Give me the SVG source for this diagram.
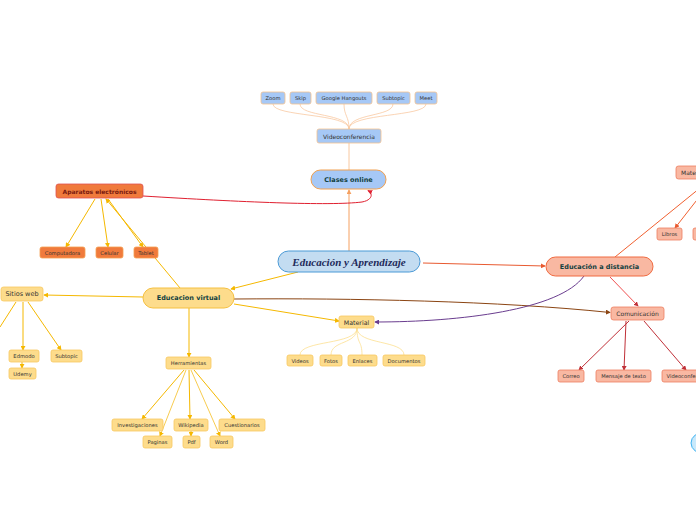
<svg xmlns="http://www.w3.org/2000/svg" width="696" height="520" viewBox="0 0 696 520">
<defs>
<style>
.t{font-family:"DejaVu Sans","Liberation Sans",sans-serif;fill:#333;text-anchor:middle;dominant-baseline:central}
.s{font-size:5.2px}
.m{font-size:6px}
.b{font-weight:bold;font-size:6.5px;fill:#123f3f}
.blue{fill:#a6c8f6;stroke:#f5c28e;stroke-width:0.8}
.org{fill:#f07a3c;stroke:#f5a050;stroke-width:0.8}
.yel{fill:#fddc8c;stroke:#f8c860;stroke-width:0.8}
.sal{fill:#f9b8a2;stroke:#ee7e60;stroke-width:0.8}
.ln{fill:none;stroke-width:1}
</style>
<marker id="aO" viewBox="0 0 6 6" refX="5" refY="3" markerWidth="5" markerHeight="5" orient="auto"><path d="M0,0L6,3L0,6z" fill="#f5a060"/></marker>
<marker id="aY" viewBox="0 0 6 6" refX="5" refY="3" markerWidth="5" markerHeight="5" orient="auto"><path d="M0,0L6,3L0,6z" fill="#f5b800"/></marker>
<marker id="aR" viewBox="0 0 6 6" refX="5" refY="3" markerWidth="5" markerHeight="5" orient="auto"><path d="M0,0L6,3L0,6z" fill="#e02030"/></marker>
<marker id="aB" viewBox="0 0 6 6" refX="5" refY="3" markerWidth="5" markerHeight="5" orient="auto"><path d="M0,0L6,3L0,6z" fill="#8b4513"/></marker>
<marker id="aP" viewBox="0 0 6 6" refX="5" refY="3" markerWidth="5" markerHeight="5" orient="auto"><path d="M0,0L6,3L0,6z" fill="#6a3d8f"/></marker>
<marker id="aD" viewBox="0 0 6 6" refX="5" refY="3" markerWidth="5" markerHeight="5" orient="auto"><path d="M0,0L6,3L0,6z" fill="#e85a30"/></marker>
<marker id="aC" viewBox="0 0 6 6" refX="5" refY="3" markerWidth="5" markerHeight="5" orient="auto"><path d="M0,0L6,3L0,6z" fill="#c03038"/></marker>
</defs>
<rect width="696" height="520" fill="#ffffff"/>

<g id="connectors">
<!-- Clases online branch -->
<path class="ln" d="M349,251 L349,190" stroke="#f5a060" marker-end="url(#aO)"/>
<path class="ln" d="M349,170 L349,143" stroke="#f8c8a0"/>
<g stroke="#f9c9a2" fill="none" stroke-width="0.8">
<path d="M349,129 C349,113 273,117 273,104"/>
<path d="M349,129 C349,113 300,117 300,104"/>
<path d="M349,129 C349,116 344,116 344,104"/>
<path d="M349,129 C349,113 393,117 393,104"/>
<path d="M349,129 C349,113 426,117 426,104"/>
</g>
<!-- Aparatos -->
<path class="ln" d="M143,196 C240,202 330,206 362,202 C373,200 373,193 368,190.5" stroke="#e02030" marker-end="url(#aR)"/>
<path class="ln" d="M95,199 L66,247" stroke="#f5b800" marker-end="url(#aY)"/>
<path class="ln" d="M101,199 L108,247" stroke="#f5b800" marker-end="url(#aY)"/>
<path class="ln" d="M108,199 L143,247" stroke="#f5b800" marker-end="url(#aY)"/>
<path class="ln" d="M180,288 L106,199" stroke="#f5b800" marker-end="url(#aY)"/>
<!-- Educacion virtual -->
<path class="ln" d="M298,272 L231,289" stroke="#f5b800" marker-end="url(#aY)"/>
<path class="ln" d="M143,297 L44,295" stroke="#f5b800" marker-end="url(#aY)"/>
<path class="ln" d="M23,302 L23,350" stroke="#f5b800" marker-end="url(#aY)"/>
<path class="ln" d="M22,362 L22,368" stroke="#f5b800" marker-end="url(#aY)"/>
<path class="ln" d="M28,302 L61,350" stroke="#f5b800" marker-end="url(#aY)"/>
<path class="ln" d="M16,302 L0,327" stroke="#f5b800"/>
<path class="ln" d="M189,308 L189,357" stroke="#f5b800" marker-end="url(#aY)"/>
<path class="ln" d="M184,370 L142,419" stroke="#f5b800" marker-end="url(#aY)"/>
<path class="ln" d="M186,370 L160,436" stroke="#f8cc50" marker-end="url(#aY)"/>
<path class="ln" d="M189,370 L190,419" stroke="#f5b800" marker-end="url(#aY)"/>
<path class="ln" d="M191,370 L220,436" stroke="#f8cc50" marker-end="url(#aY)"/>
<path class="ln" d="M194,370 L235,419" stroke="#f5b800" marker-end="url(#aY)"/>
<path class="ln" d="M191,431 L191,436" stroke="#f5b800" marker-end="url(#aY)"/>
<path class="ln" d="M234,304 L339,321" stroke="#f5b800" marker-end="url(#aY)"/>
<g stroke="#fde090" fill="none" stroke-width="0.8">
<path d="M357,328 C357,345 300,340 300,355"/>
<path d="M357,328 C357,345 331,340 331,355"/>
<path d="M357,328 C357,345 362,340 362,355"/>
<path d="M357,328 C357,345 404,340 404,355"/>
</g>
<path class="ln" d="M234,299 C350,298 500,301 610,312.5" stroke="#8b4513" marker-end="url(#aB)"/>
<!-- Educacion a distancia -->
<path class="ln" d="M423,263 L545,266" stroke="#e85a30" marker-end="url(#aD)"/>
<path class="ln" d="M584,276 C560,310 460,322 375,322" stroke="#6a3d8f" marker-end="url(#aP)"/>
<path class="ln" d="M610,277 L638,306" stroke="#f05050" marker-end="url(#aC)"/>
<path class="ln" d="M629,321 L579,370" stroke="#c03038" marker-end="url(#aC)"/>
<path class="ln" d="M626,321 L624,370" stroke="#c03038" marker-end="url(#aC)"/>
<path class="ln" d="M644,321 L686,370" stroke="#c03038" marker-end="url(#aC)"/>
<path class="ln" d="M700,188 L615,257" stroke="#f06030"/>
<path class="ln" d="M700,196 L675,228" stroke="#f06030" marker-end="url(#aD)"/>
</g>

<g id="central"><rect x="278" y="251" width="142" height="21" rx="10.5" fill="#c3dcf1" stroke="#4b9ad6" stroke-width="1"/><text x="349" y="262" style="font-family:'Liberation Serif','DejaVu Serif',serif;font-weight:bold;font-style:italic;font-size:11px;fill:#1e2a5a;text-anchor:middle;dominant-baseline:central">Educación y Aprendizaje</text></g>

<g id="clases"><rect x="311" y="170" width="75" height="19" rx="9.5" fill="#a6c8f6" stroke="#f0a050" stroke-width="1"/><text class="t b" x="348.5" y="179.5">Clases online</text></g>
<g id="videoconf"><rect class="blue" x="317" y="129" width="64" height="14" rx="2"/><text class="t m" x="349" y="136">Videoconferencia</text></g>
<g id="zoom"><rect class="blue" x="261" y="92" width="24" height="12" rx="2"/><text class="t s" x="273" y="98">Zoom</text></g>
<g id="skip"><rect class="blue" x="290" y="92" width="21" height="12" rx="2"/><text class="t s" x="300.5" y="98">Skip</text></g>
<g id="hangouts"><rect class="blue" x="316" y="92" width="56" height="12" rx="2"/><text class="t s" x="344" y="98">Google Hangouts</text></g>
<g id="subtopic1"><rect class="blue" x="377" y="92" width="33" height="12" rx="2"/><text class="t s" x="393.5" y="98">Subtopic</text></g>
<g id="meet"><rect class="blue" x="415" y="92" width="22" height="12" rx="2"/><text class="t s" x="426" y="98">Meet</text></g>

<g id="aparatos"><rect x="56" y="184" width="87" height="14" rx="2.5" fill="#f07a3c" stroke="#e05050" stroke-width="0.8"/><text class="t" x="99.5" y="191" style="font-weight:bold;font-size:6px;fill:#7a1a10">Aparatos electrónicos</text></g>
<g id="computadora"><rect class="org" x="40" y="247" width="45" height="11" rx="2"/><text class="t s" x="62.5" y="252.5">Computadora</text></g>
<g id="celular"><rect class="org" x="96" y="247" width="27" height="11" rx="2"/><text class="t s" x="109.5" y="252.5">Celular</text></g>
<g id="tablet"><rect class="org" x="134" y="247" width="24" height="11" rx="2"/><text class="t s" x="146" y="252.5">Tablet</text></g>

<g id="virtual"><rect x="143" y="288" width="91" height="20" rx="10" fill="#fddc8c" stroke="#f5c040" stroke-width="1"/><text class="t b" x="188.5" y="298">Educacion virtual</text></g>
<g id="sitios"><rect class="yel" x="1" y="287" width="42" height="14" rx="2.5"/><text class="t" x="22" y="294" style="font-size:6.5px">Sitios web</text></g>
<g id="edmodo"><rect class="yel" x="9" y="350" width="30" height="12" rx="2"/><text class="t s" x="24" y="356">Edmodo</text></g>
<g id="udemy"><rect class="yel" x="9" y="368" width="27" height="11" rx="2"/><text class="t s" x="22.5" y="373.5">Udemy</text></g>
<g id="subtopic2"><rect class="yel" x="51" y="350" width="31" height="12" rx="2"/><text class="t s" x="66.5" y="356">Subtopic</text></g>
<g id="herramientas"><rect class="yel" x="166" y="357" width="45" height="12" rx="2"/><text class="t s" x="188.5" y="363">Herramientas</text></g>
<g id="investigaciones"><rect class="yel" x="112" y="419" width="51" height="12" rx="2"/><text class="t s" x="137.5" y="425">Investigaciones</text></g>
<g id="wikipedia"><rect class="yel" x="174" y="419" width="34" height="12" rx="2"/><text class="t s" x="191" y="425">Wikipedia</text></g>
<g id="cuestionarios"><rect class="yel" x="219" y="419" width="46" height="12" rx="2"/><text class="t s" x="242" y="425">Cuestionarios</text></g>
<g id="paginas"><rect class="yel" x="143" y="436" width="29" height="12" rx="2"/><text class="t s" x="157.5" y="442">Paginas</text></g>
<g id="pdf"><rect class="yel" x="183" y="436" width="17" height="12" rx="2"/><text class="t s" x="191.5" y="442">Pdf</text></g>
<g id="word"><rect class="yel" x="210" y="436" width="23" height="12" rx="2"/><text class="t s" x="221.5" y="442">Word</text></g>
<g id="material"><rect class="yel" x="339" y="316" width="35" height="12" rx="2"/><text class="t" x="356.5" y="322" style="font-size:6.3px">Material</text></g>
<g id="videos"><rect class="yel" x="287" y="355" width="26" height="11" rx="2"/><text class="t s" x="300" y="360.5">Videos</text></g>
<g id="fotos"><rect class="yel" x="320" y="355" width="22" height="11" rx="2"/><text class="t s" x="331" y="360.5">Fotos</text></g>
<g id="enlaces"><rect class="yel" x="348" y="355" width="29" height="11" rx="2"/><text class="t s" x="362.5" y="360.5">Enlaces</text></g>
<g id="documentos"><rect class="yel" x="383" y="355" width="42" height="11" rx="2"/><text class="t s" x="404" y="360.5">Documentos</text></g>

<g id="distancia"><rect x="546" y="257" width="107" height="19" rx="9.5" fill="#f9b8a2" stroke="#f06a40" stroke-width="1"/><text class="t b" x="599.5" y="266.5">Educación a distancia</text></g>
<g id="comunicacion"><rect class="sal" x="611" y="307" width="53" height="13" rx="2.5"/><text class="t m" x="637.5" y="313.5">Comunicación</text></g>
<g id="correo"><rect class="sal" x="558" y="370" width="26" height="12" rx="2"/><text class="t s" x="571" y="376">Correo</text></g>
<g id="mensaje"><rect class="sal" x="596" y="370" width="55" height="12" rx="2"/><text class="t s" x="623.5" y="376">Mensaje de texto</text></g>
<g id="videoconf2"><rect class="sal" x="662" y="370" width="54" height="12" rx="2"/><text class="t s" x="689" y="376">Videoconferencia</text></g>
<g id="materiales"><rect class="sal" x="676" y="166" width="40" height="13" rx="2.5"/><text class="t m" x="681" y="172.5" style="text-anchor:start">Materiales</text></g>
<g id="libros"><rect class="sal" x="657" y="228" width="25" height="12" rx="2"/><text class="t s" x="669.5" y="234">Libros</text></g>
<g id="other"><rect class="sal" x="693" y="228" width="25" height="12" rx="2"/></g>
<g id="circle"><ellipse cx="706" cy="443" rx="15" ry="11.5" fill="#c9e9fb" stroke="#3fb2f0" stroke-width="1"/></g>
</svg>
